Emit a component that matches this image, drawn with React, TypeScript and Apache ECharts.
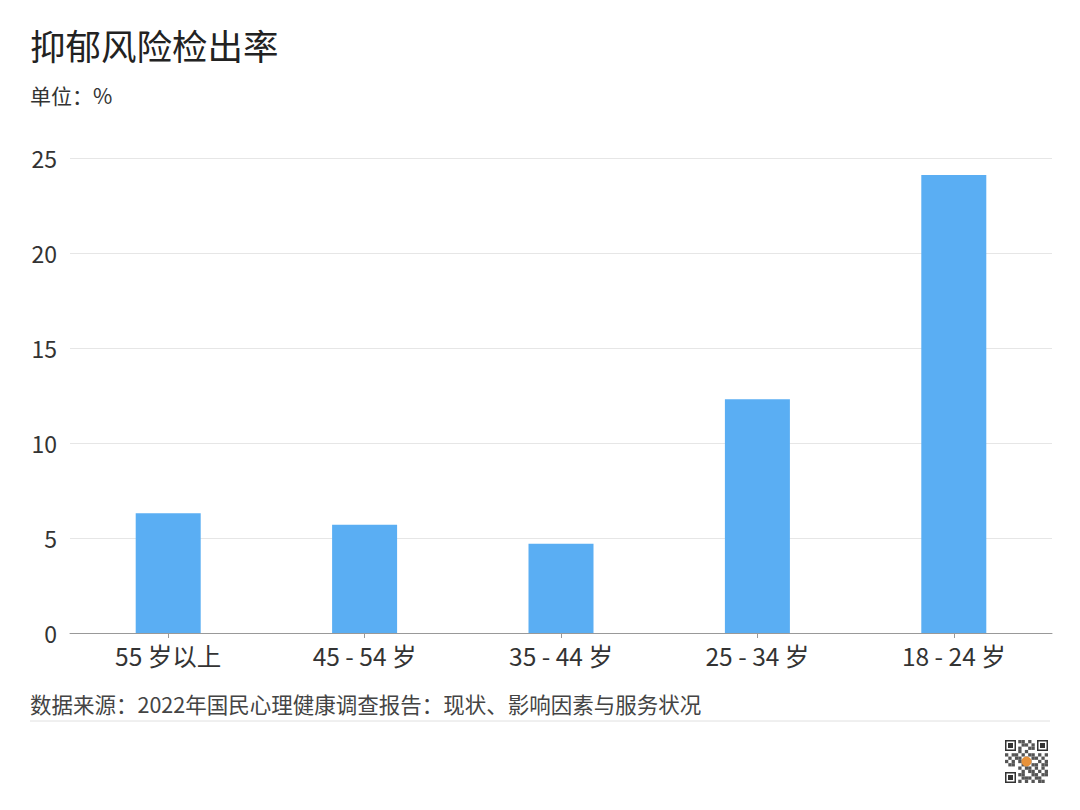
import React, { useEffect, useRef } from "react";
import * as echarts from "echarts";

const categories = ["55 岁以上", "45 - 54 岁", "35 - 44 岁", "25 - 34 岁", "18 - 24 岁"];
const values = [6.3, 5.7, 4.7, 12.3, 24.1];
const titleText = "抑郁风险检出率";
const unitText = "单位：%";
const sourceText = "数据来源：2022年国民心理健康调查报告：现状、影响因素与服务状况";

const FONT = "'Noto Sans CJK SC', 'Noto Sans', sans-serif";

function qrGraphic() {
  const x0 = 1005, y0 = 740, s = 43;
  const children: any[] = [];
  children.push({ type: "rect", shape: { x: x0, y: y0, width: s, height: s }, style: { fill: "#ffffff" } });
  const finders = [[x0, y0], [x0 + s - 11, y0], [x0, y0 + s - 11]];
  finders.forEach(([fx, fy]) => {
    children.push({ type: "rect", shape: { x: fx, y: fy, width: 11, height: 11 }, style: { fill: "#333" } });
    children.push({ type: "rect", shape: { x: fx + 1.5, y: fy + 1.5, width: 8, height: 8 }, style: { fill: "#fff" } });
    children.push({ type: "rect", shape: { x: fx + 3, y: fy + 3, width: 5, height: 5 }, style: { fill: "#333" } });
  });
  const pattern = [
    "0000110101000",
    "0001011010100",
    "1101100110110",
    "0110101001011",
    "1011010110101",
    "0101101011010",
    "1010110100101",
    "0110011011011",
    "0000101101010",
    "0001010110101",
    "0000110011011",
    "0001011101100",
    "0000101010110",
  ];
  const cell = s / 13;
  pattern.forEach((row, r) => {
    row.split("").forEach((c, ci) => {
      const inFinder = (r < 4 && ci < 4) || (r < 4 && ci > 8) || (r > 8 && ci < 4);
      if (c === "1" && !inFinder) {
        children.push({ type: "rect", shape: { x: x0 + ci * cell, y: y0 + r * cell, width: cell, height: cell }, style: { fill: "#555" } });
      }
    });
  });
  children.push({ type: "circle", shape: { cx: x0 + s / 2, cy: y0 + s / 2, r: 5 }, style: { fill: "#e8923a" } });
  return { type: "group", children };
}

export default function App() {
  const ref = useRef<HTMLDivElement>(null);
  useEffect(() => {
    document.body.style.margin = "0";
    const chart = echarts.init(ref.current!, null, { renderer: "svg" });
    chart.setOption({
      animation: false,
      backgroundColor: "#ffffff",
      textStyle: { fontFamily: FONT },
      grid: { left: 70, right: 28, top: 158, bottom: 177 },
      xAxis: {
        type: "category",
        data: categories,
        axisLine: { lineStyle: { color: "#999999", width: 1 } },
        axisTick: { show: true, alignWithLabel: true, length: 5, lineStyle: { color: "#999999" } },
        axisLabel: { color: "#333333", fontSize: 24.5, margin: 10, fontFamily: FONT },
      },
      yAxis: {
        type: "value",
        min: 0,
        max: 25,
        interval: 5,
        axisLine: { show: false },
        axisTick: { show: false },
        axisLabel: { color: "#333333", fontSize: 23, margin: 13, fontFamily: FONT },
        splitLine: { lineStyle: { color: "#e6e6e6", width: 1 } },
      },
      series: [
        {
          type: "bar",
          data: values,
          barWidth: 65,
          itemStyle: { color: "#5aaef3" },
        },
      ],
      graphic: [
        { type: "text", left: 30, top: 27, style: { text: titleText, fontSize: 35.5, fill: "#222222", fontFamily: FONT } },
        { type: "text", left: 30, top: 84, style: { text: unitText, fontSize: 21, fill: "#333333", fontFamily: FONT } },
        { type: "text", left: 30, top: 693, style: { text: sourceText, fontSize: 21.5, fill: "#444444", fontFamily: FONT } },
        { type: "line", shape: { x1: 30, y1: 721, x2: 1050, y2: 721 }, style: { stroke: "#e0e0e0", lineWidth: 1 } },
        qrGraphic(),
      ],
    });
    return () => chart.dispose();
  }, []);
  return <div ref={ref} style={{ width: 1080, height: 810 }} />;
}
